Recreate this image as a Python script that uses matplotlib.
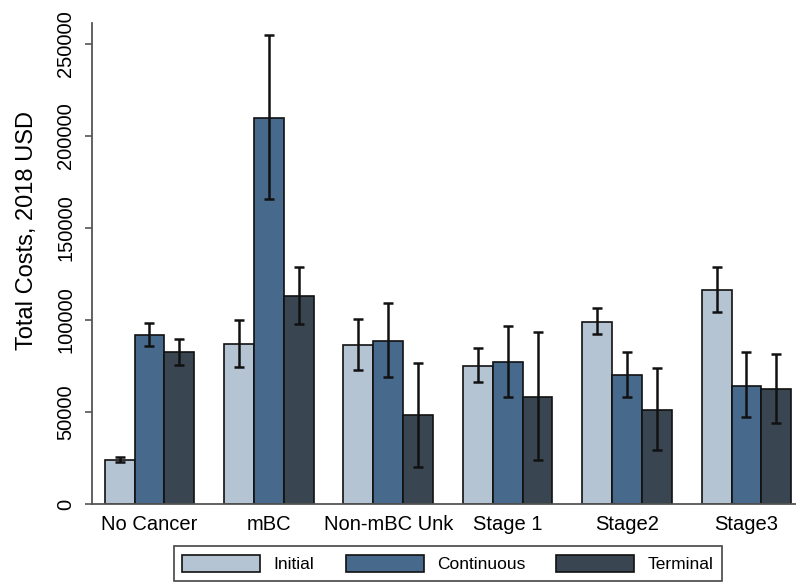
import numpy as np
import matplotlib
matplotlib.use("Agg")
import matplotlib.pyplot as plt

plt.rcParams['font.family'] = ['Liberation Sans', 'DejaVu Sans']

groups = ["No Cancer", "mBC", "Non-mBC Unk", "Stage 1", "Stage2", "Stage3"]
phases = ["Initial", "Continuous", "Terminal"]

# mean total cost per phase, with lower / upper CI bounds
initial = [24000, 86800, 86600, 75200, 98900, 116300]
initial_lo = [22600, 74500, 73000, 66300, 92600, 104200]
initial_hi = [25700, 99800, 100700, 84800, 106300, 129000]

continuous = [91700, 210000, 88800, 77200, 69900, 64300]
continuous_lo = [85700, 165900, 69200, 58200, 58200, 47300]
continuous_hi = [98500, 254900, 109100, 96600, 82800, 82400]

terminal = [82400, 113000, 48200, 58300, 51300, 62500]
terminal_lo = [75700, 97800, 20300, 23700, 29200, 43900]
terminal_hi = [89500, 128600, 76800, 93300, 73800, 81500]

colors = ["#b4c4d2", "#476a8c", "#394652"]

series = [
    (initial, initial_lo, initial_hi),
    (continuous, continuous_lo, continuous_hi),
    (terminal, terminal_lo, terminal_hi),
]

fig = plt.figure(figsize=(7.96, 5.87), dpi=100)
ax = fig.add_axes([0.1152, 0.1414, 0.8848, 0.8199])

x = np.arange(len(groups))
width = 0.25
for i, (vals, lo, hi) in enumerate(series):
    pos = x + (i - 1) * width
    vals = np.array(vals)
    yerr = np.vstack([vals - np.array(lo), np.array(hi) - vals])
    ax.bar(pos, vals, width, color=colors[i], edgecolor="#111111",
           linewidth=1.2, label=phases[i], zorder=2)
    ax.errorbar(pos, vals, yerr=yerr, fmt="none", ecolor="#111111",
                elinewidth=1.8, capsize=3.5, capthick=1.8, zorder=3)

ax.set_xlim(-0.484, 5.415)
ax.set_ylim(0, 261600)
ax.set_yticks([0, 50000, 100000, 150000, 200000, 250000])
ax.set_yticklabels(["0", "50000", "100000", "150000", "200000", "250000"],
                   rotation=90, va="center", fontsize=14.5)
ax.set_xticks(x)
ax.set_xticklabels(groups, fontsize=14.5)
ax.tick_params(axis="x", length=0, pad=8)
ax.tick_params(axis="y", length=5, width=1.2, color="#555555", pad=7)

for side in ["top", "right"]:
    ax.spines[side].set_visible(False)
for side in ["left", "bottom"]:
    ax.spines[side].set_color("#555555")
    ax.spines[side].set_linewidth(1.3)

ax.set_ylabel("Total Costs, 2018 USD", fontsize=17)
ax.yaxis.set_label_coords(-0.076, 0.569)

leg = fig.legend(loc="center", bbox_to_anchor=(0.5626, 0.04), ncol=3,
                 fontsize=12.5, handlelength=4.5, handleheight=1.15,
                 handletextpad=0.75, columnspacing=1.8, borderpad=0.5,
                 fancybox=False, framealpha=1)
leg.get_frame().set_edgecolor("#444444")
leg.get_frame().set_linewidth(1.2)

fig.savefig("out.png", dpi=100)
